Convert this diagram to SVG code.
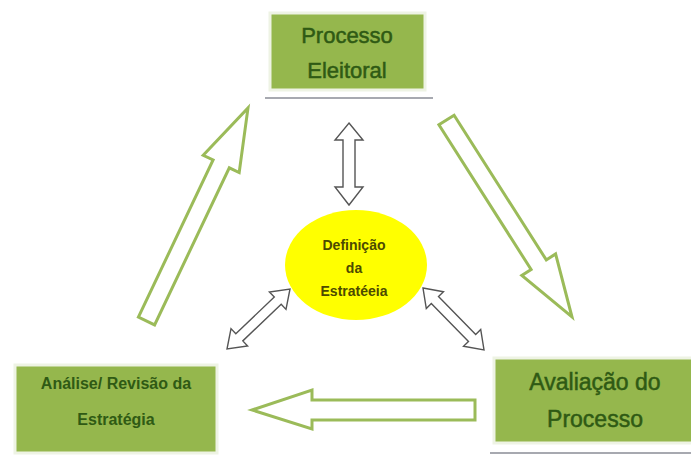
<svg xmlns="http://www.w3.org/2000/svg" width="691" height="457" viewBox="0 0 691 457">
<style>
.box{fill:#95b74d;stroke:#eef3e4;stroke-width:3}
.shadow{stroke:#a7a9b0;stroke-width:2}
.big{font-family:"Liberation Sans",Arial,sans-serif;font-size:22px;fill:#2f5a14;stroke:#2f5a14;stroke-width:0.5;text-anchor:middle}
.small{font-family:"Liberation Sans",Arial,sans-serif;font-size:16px;font-weight:bold;fill:#2f5a14;text-anchor:middle}
.ell{font-family:"Liberation Sans",Arial,sans-serif;font-size:14px;font-weight:bold;fill:#4d4a00;text-anchor:middle}
.garrow{fill:#ffffff;stroke:#9bbb59;stroke-width:3;stroke-linejoin:miter}
.darrow{fill:#ffffff;stroke:#555555;stroke-width:1.4;stroke-linejoin:miter}
</style>
<rect width="691" height="457" fill="#ffffff"/>
<g id="connectors">
<polygon class="garrow" points="138.4,317.1 213.1,160.0 203.2,155.3 248,108 239.2,172.5 229.3,167.8 154.6,324.9"/>
<polygon class="garrow" points="438.9,124.8 531.1,269.5 521.8,275.4 572,317 555.6,253.9 546.3,259.9 454.1,115.2"/>
<polygon class="garrow" points="475,400 312,400 312,390 252,410 312,429 312,420 475,420"/>
<polygon class="darrow" points="349,123 363,140 355,140 355,187 363,187 349,205 335,187 343,187 343,140 335,140"/>
<polygon class="darrow" points="290,289 286.0,309.4 281.2,304.3 242.8,340.9 247.6,346.0 227,349 231.0,328.6 235.8,333.7 274.3,297.1 269.4,292.0"/>
<polygon class="darrow" points="423,288 443.5,291.7 438.5,296.6 475.7,334.4 480.7,329.5 484,350 463.5,346.3 468.5,341.4 431.3,303.6 426.3,308.5"/>
</g>
<g id="processo-eleitoral">
<line class="shadow" x1="265" y1="98" x2="433" y2="98"/>
<rect class="box" x="270" y="13" width="155" height="77"/>
<text class="big" x="347" y="43">Processo</text>
<text class="big" x="347" y="78">Eleitoral</text>
</g>
<g id="definicao-estrategia">
<ellipse cx="356" cy="265" rx="71" ry="55" fill="#ffff00"/>
<text class="ell" x="354" y="250">Definição</text>
<text class="ell" x="354" y="273">da</text>
<text class="ell" x="354" y="296">Estratéeia</text>
</g>
<g id="analise-revisao">
<rect class="box" x="15" y="365" width="202" height="88"/>
<text class="small" x="116" y="389">Análise/ Revisão da</text>
<text class="small" x="116" y="425">Estratégia</text>
</g>
<g id="avaliacao-processo">
<line class="shadow" x1="490" y1="453" x2="691" y2="453"/>
<rect class="box" x="494" y="358" width="200" height="85"/>
<text class="big" x="595" y="390" style="font-size:23px">Avaliação do</text>
<text class="big" x="595" y="427" style="font-size:23px">Processo</text>
</g>
</svg>
